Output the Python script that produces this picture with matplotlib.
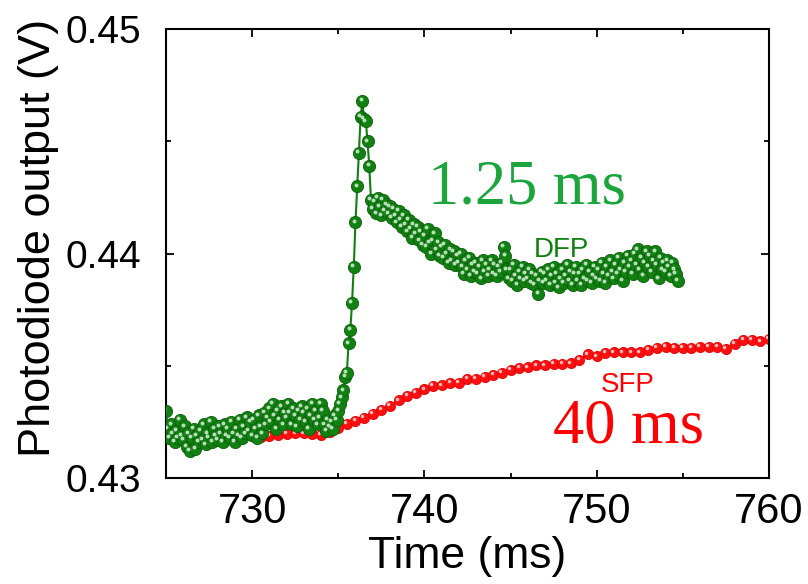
import numpy as np
import matplotlib
matplotlib.use('Agg')
import matplotlib.pyplot as plt
import matplotlib.transforms as mtransforms

plt.rcParams['font.family'] = ['Liberation Sans', 'DejaVu Sans']

# SFP trace, sampled every 0.5 ms
sfp_t = np.round(725 + 0.5 * np.arange(71), 1)
sfp_v = [0.43183, 0.43183, 0.43183, 0.43187, 0.43183, 0.43187, 0.43192, 0.43192, 0.43196, 0.43192,
         0.43187, 0.43183, 0.43187, 0.43192, 0.43196, 0.43200, 0.43200, 0.43196, 0.43192, 0.43205,
         0.43223, 0.43241, 0.43254, 0.43267, 0.43285, 0.43303, 0.43321, 0.43347, 0.43365, 0.43379,
         0.43396, 0.43410, 0.43414, 0.43423, 0.43423, 0.43441, 0.43441, 0.43450, 0.43459, 0.43468,
         0.43481, 0.43490, 0.43494, 0.43503, 0.43503, 0.43508, 0.43508, 0.43512, 0.43526, 0.43552,
         0.43543, 0.43557, 0.43561, 0.43561, 0.43561, 0.43561, 0.43570, 0.43579, 0.43584, 0.43579,
         0.43579, 0.43579, 0.43584, 0.43584, 0.43584, 0.43575, 0.43597, 0.43615, 0.43615, 0.43610,
         0.43619]

# DFP trace, sampled every 0.1 ms
dfp_v = [
    0.4330, 0.4322, 0.4318, 0.4324, 0.4320, 0.4316, 0.4321, 0.4318, 0.4326, 0.4319,
    0.4317, 0.4323, 0.4314, 0.4320, 0.4312, 0.4318, 0.4322, 0.4313, 0.4319, 0.4316,
    0.4321, 0.4317, 0.4324, 0.4315, 0.4320, 0.4318, 0.4325, 0.4316, 0.4322, 0.4319,
    0.4317, 0.4323, 0.4320, 0.4316, 0.4324, 0.4319, 0.4322, 0.4318, 0.4325, 0.4320,
    0.4316, 0.4322, 0.4319, 0.4326, 0.4318, 0.4323, 0.4320, 0.4327, 0.4321, 0.4325,
    0.4319, 0.4326, 0.4322, 0.4318, 0.4328, 0.4323, 0.4320, 0.4329, 0.4324, 0.4327,
    0.4331, 0.4325, 0.4333, 0.4328, 0.4322, 0.4330, 0.4326, 0.4332, 0.4324, 0.4329,
    0.4327, 0.4333, 0.4329, 0.4324, 0.4331, 0.4328, 0.4323, 0.4330, 0.4326, 0.4332,
    0.4329, 0.4325, 0.4331, 0.4322, 0.4328, 0.4333, 0.4326, 0.4330, 0.4324, 0.4327,
    0.4333, 0.4330, 0.4324, 0.4321, 0.4326, 0.4323, 0.4325, 0.4322, 0.4328, 0.4326,
    # rise and peak
    0.4330, 0.4333, 0.4336, 0.4339, 0.4345, 0.4347, 0.4360, 0.4366, 0.4378, 0.4394,
    0.4414, 0.4430, 0.4445, 0.4461, 0.4468, 0.4460, 0.4459, 0.4450, 0.4439, 0.4424,
    # decay
    0.4420, 0.4423, 0.4418, 0.4425, 0.4421, 0.4417, 0.4424, 0.4419, 0.4422, 0.4418,
    0.4421, 0.4416, 0.4420, 0.4417, 0.4414, 0.4419, 0.4415, 0.4412, 0.4417, 0.4413,
    0.4410, 0.4415, 0.4411, 0.4407, 0.4413, 0.4409, 0.4412, 0.4406, 0.4410, 0.4404,
    0.4408, 0.4403, 0.4411, 0.4405, 0.4400, 0.4406, 0.4409, 0.4402, 0.4405, 0.4399,
    0.4403, 0.4398, 0.4404, 0.4400, 0.4396, 0.4402, 0.4397, 0.4401, 0.4395, 0.4399,
    0.4396, 0.4400, 0.4394, 0.4391, 0.4397, 0.4393, 0.4398, 0.4390, 0.4395, 0.4392,
    0.4396, 0.4391, 0.4394, 0.4389, 0.4397, 0.4392, 0.4395, 0.4390, 0.4393, 0.4397,
    0.4391, 0.4395, 0.4390, 0.4394, 0.4392, 0.4396, 0.4403, 0.4399, 0.4393, 0.4389,
    0.4393, 0.4388, 0.4395, 0.4390, 0.4386, 0.4392, 0.4389, 0.4394, 0.4388, 0.4391,
    0.4389, 0.4393, 0.4387, 0.4391, 0.4386, 0.4390, 0.4382, 0.4388, 0.4392, 0.4387,
    0.4391, 0.4388, 0.4393, 0.4386, 0.4390, 0.4394, 0.4387, 0.4391, 0.4385, 0.4389,
    0.4393, 0.4387, 0.4390, 0.4395, 0.4388, 0.4392, 0.4386, 0.4391, 0.4394, 0.4388,
    0.4391, 0.4386, 0.4393, 0.4389, 0.4395, 0.4388, 0.4392, 0.4387, 0.4390, 0.4394,
    0.4389, 0.4393, 0.4388, 0.4396, 0.4391, 0.4387, 0.4394, 0.4390, 0.4397, 0.4392,
    0.4389, 0.4395, 0.4391, 0.4398, 0.4393, 0.4388, 0.4396, 0.4392, 0.4399, 0.4394,
    0.4397, 0.4391, 0.4400, 0.4395, 0.4402, 0.4393, 0.4398, 0.4390, 0.4396, 0.4401,
    0.4394, 0.4399, 0.4392, 0.4397, 0.4401, 0.4395, 0.4389, 0.4398, 0.4393, 0.4396,
    0.4392, 0.4397, 0.4394, 0.4390, 0.4396, 0.4393, 0.4391, 0.4388,
]
dfp_t = np.round(725 + 0.1 * np.arange(len(dfp_v)), 1)

xticks = [730, 740, 750, 760]
yticks = [0.43, 0.44, 0.45]

fig = plt.figure(figsize=(8.08, 5.84), dpi=100)
ax = fig.add_axes([0.2054, 0.1815, 0.7463, 0.7685])

# little white glint, up-left of each ball
glint = mtransforms.offset_copy(ax.transData, fig=fig, x=-1.6, y=1.6, units='dots')

ax.plot(sfp_t, sfp_v, '-', color='#ff0000', lw=1.2, marker='o', ms=7.3,
        mfc='#ff1010', mec='#e00000', mew=0.6, zorder=2)
ax.plot(sfp_t, sfp_v, 'o', color='#ffd0d0', ms=2.5, mew=0, alpha=0.9,
        transform=glint, zorder=2.1)

ax.plot(dfp_t, dfp_v, '-', color='#0f800f', lw=1.5, marker='o', ms=8.8,
        mfc='#118211', mec='#0a5f0a', mew=0.6, zorder=3)
ax.plot(dfp_t, dfp_v, 'o', color='#d8f0d8', ms=2.8, mew=0, alpha=0.85,
        transform=glint, zorder=3.1)

ax.text(740.23, 0.44225, '1.25 ms', color='#1ba53c', fontsize=45,
        family=['Liberation Serif', 'DejaVu Serif'])
ax.text(747.44, 0.43160, '40 ms', color='#ff0000', fontsize=45,
        family=['Liberation Serif', 'DejaVu Serif'])
ax.text(746.34, 0.43984, 'DFP', color='#0f800f', fontsize=20)
ax.text(750.23, 0.43383, 'SFP', color='#ff0000', fontsize=20)

ax.set_xlim(725, 760)
ax.set_ylim(0.43, 0.45)
ax.set_xticks(xticks)
ax.set_xticks([735, 745, 755], minor=True)
ax.set_yticks(yticks)
ax.set_yticklabels(['0.43', '0.44', '0.45'])
ax.set_yticks([0.435, 0.445], minor=True)

ax.tick_params(which='both', direction='in', top=True, right=True, width=1.3)
ax.tick_params(which='major', length=6)
ax.tick_params(which='minor', length=3.5)
ax.tick_params(axis='y', which='major', labelsize=28, pad=18)
ax.tick_params(axis='x', which='major', labelsize=30, pad=10)
for sp in ax.spines.values():
    sp.set_linewidth(1.5)

ax.set_xlabel('Time (ms)', fontsize=32, labelpad=3)
ax.set_ylabel('Photodiode output (V)', fontsize=32.5)
ax.yaxis.set_label_coords(-0.178, 0.535)

fig.savefig('out.png', dpi=100)
